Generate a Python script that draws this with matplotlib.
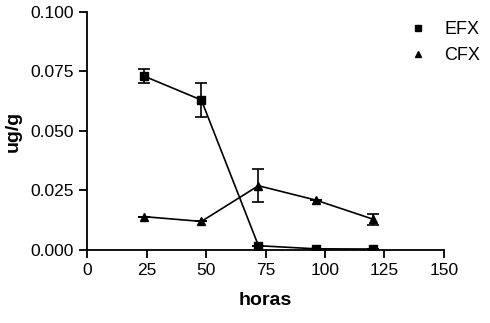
import matplotlib
matplotlib.use('Agg')
import matplotlib.pyplot as plt

plt.rcParams['font.family'] = ['Liberation Sans', 'DejaVu Sans']

horas = [24, 48, 72, 96, 120]
efx = [0.073, 0.063, 0.0018, 0.0005, 0.0004]
efx_err = [0.003, 0.007, 0.0, 0.0, 0.0]
cfx = [0.014, 0.012, 0.027, 0.021, 0.013]
cfx_err = [0.0, 0.0, 0.007, 0.0, 0.0023]

fig = plt.figure(figsize=(4.9, 3.23), dpi=100)
ax = fig.add_axes([0.178, 0.226, 0.728, 0.737])

ax.errorbar(horas, efx, yerr=efx_err, color='black', marker='s', markersize=6,
            lw=1.2, capsize=4, elinewidth=1.2, capthick=1.2, label='EFX')
ax.errorbar(horas, cfx, yerr=cfx_err, color='black', marker='^', markersize=6,
            lw=1.2, capsize=4, elinewidth=1.2, capthick=1.2, label='CFX')

ax.set_xlim(0, 150)
ax.set_ylim(0, 0.1)
ax.set_xticks([0, 25, 50, 75, 100, 125, 150])
ax.set_yticks([0, 0.025, 0.05, 0.075, 0.1])
ax.set_yticklabels(['0.000', '0.025', '0.050', '0.075', '0.100'])
ax.set_xlabel('horas', fontsize=14, fontweight='bold', labelpad=10)
ax.set_ylabel('ug/g', fontsize=14, fontweight='bold', labelpad=6)
ax.spines['top'].set_visible(False)
ax.spines['right'].set_visible(False)
for s in ['left', 'bottom']:
    ax.spines[s].set_linewidth(1.3)
ax.tick_params(direction='out', length=6, width=1.3, labelsize=12.5)

labels = ['EFX', 'CFX']
h = [plt.Line2D([], [], color='black', marker=m, ls='none', markersize=5) for m in ['s', '^']]
fig.legend(h, labels, loc='upper left', bbox_to_anchor=(0.835, 0.935), frameon=False,
           fontsize=13, handlelength=1.0, handletextpad=0.95, labelspacing=0.5,
           borderaxespad=0, borderpad=0)

fig.savefig('out.png', dpi=100)
